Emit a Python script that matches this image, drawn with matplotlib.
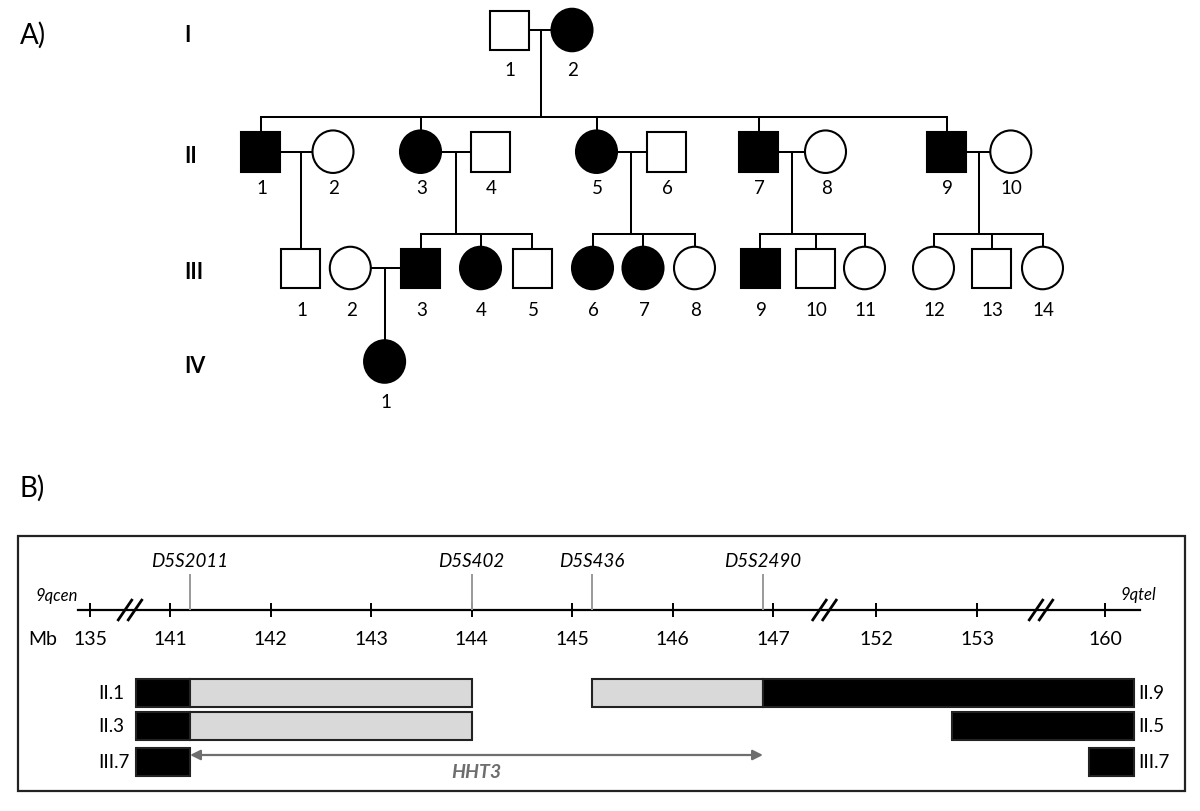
import matplotlib
matplotlib.use("Agg")
import matplotlib.pyplot as plt
from matplotlib.patches import Rectangle, Ellipse
import numpy as np

plt.rcParams['font.family'] = ['Lato', 'DejaVu Sans']

# ---------------- data: pedigree ----------------
GENERATIONS = ["I", "II", "III", "IV"]
SEX = {"I": "MF", "II": "MFFMFMMFMF", "III": "MFMFMFFFMMFFMF", "IV": "F"}
AFFECTED = {
    "I": [0, 1],
    "II": [1, 0, 1, 0, 1, 0, 1, 0, 1, 0],
    "III": [0, 0, 1, 1, 0, 1, 1, 0, 1, 0, 0, 0, 0, 0],
    "IV": [1],
}
# couples: (generation, index a, index b) -> children (generation, indices)
COUPLES = [
    ("I", 0, 1, "II", [0, 2, 4, 6, 8]),
    ("II", 0, 1, "III", [0]),
    ("II", 2, 3, "III", [2, 3, 4]),
    ("II", 4, 5, "III", [5, 6, 7]),
    ("II", 6, 7, "III", [8, 9, 10]),
    ("II", 8, 9, "III", [11, 12, 13]),
    ("III", 1, 2, "IV", [0]),
]

# ---------------- data: haplotype map ----------------
TICK_MB = [135, 141, 142, 143, 144, 145, 146, 147, 152, 153, 160]
MARKERS = ["D5S2011", "D5S402", "D5S436", "D5S2490"]
MARKER_MB = [141.2, 144.0, 145.2, 146.9]
LEFT_LABELS = ["II.1", "II.3", "III.7"]
RIGHT_LABELS = ["II.9", "II.5", "III.7"]
SEG_ROW = [0, 0, 1, 1, 2, 0, 0, 1, 2]
SEG_START = [138.45, 141.2, 138.45, 141.2, 138.45, 145.2, 146.9, 152.75, 159.1]
SEG_END = [141.2, 144.0, 141.2, 144.0, 141.2, 146.9, 161.6, 161.6, 161.6]
SEG_STATE = ["shared", "uninf", "shared", "uninf", "shared", "uninf", "shared", "shared", "shared"]
INTERVAL = [141.2, 146.9]
INTERVAL_NAME = "HHT3"

# ---------------- layout ----------------
X_POS = {
    "I": [509, 572],
    "II": [260.5, 333, 420.5, 490.7, 596.5, 666.2, 758.7, 825.5, 946.7, 1010.8],
    "III": [300.6, 350.3, 420.6, 480.5, 532, 592.5, 643, 694.5, 760, 815.5,
            864.5, 933.5, 991.5, 1042.5],
    "IV": [384.6],
}
Y_POS = {"I": 31, "II": 152.7, "III": 269, "IV": 362.5}
Y_NUM = {"I": 70, "II": 189, "III": 311, "IV": 403}
SIB_Y = {"II": 118, "III": 234.5}
HALF = 20.5
LW = 1.45

fig = plt.figure(figsize=(12, 8.12), dpi=100)
ax0 = fig.add_axes([0, 0, 1, 1])
ax0.set_xlim(0, 1200)
ax0.set_ylim(812, 0)
ax0.axis('off')

# panel letters
ax0.text(20, 35, "A)", fontsize=20, ha='left', va='center')
ax0.text(20, 488, "B)", fontsize=20, ha='left', va='center')

# generation labels
for g in GENERATIONS:
    ax0.text(184, Y_POS[g] + 4, g, fontsize=15.5, fontweight='bold', ha='left', va='center')

# connecting lines
for (g, a, b, cg, kids) in COUPLES:
    xa, xb = X_POS[g][a], X_POS[g][b]
    y = Y_POS[g]
    ax0.plot([xa + HALF, xb - HALF], [y, y], color='black', lw=LW, zorder=1,
             solid_capstyle='butt')
    kx = [X_POS[cg][k] for k in kids]
    drop = (xa + xb) / 2 if len(kids) > 1 else kx[0]
    if len(kids) == 1:
        ax0.plot([drop, drop], [y, Y_POS[cg] - HALF], color='black', lw=LW, zorder=1)
        continue
    sy = SIB_Y[cg]
    ax0.plot([drop, drop], [y, sy], color='black', lw=LW, zorder=1)
    ax0.plot([min(kx + [drop]), max(kx + [drop])], [sy, sy], color='black', lw=LW,
             zorder=1, solid_capstyle='projecting')
    for x in kx:
        ax0.plot([x, x], [sy, Y_POS[cg] - HALF], color='black', lw=LW, zorder=1)

# individuals
for g in GENERATIONS:
    for i, (s, aff) in enumerate(zip(SEX[g], AFFECTED[g])):
        x, y = X_POS[g][i], Y_POS[g]
        fc = 'black' if aff else 'white'
        if s == "M":
            p = Rectangle((x - 19.5, y - 19.5), 39, 39.5, facecolor=fc, edgecolor='black',
                          lw=1.5, zorder=2)
        else:
            p = Ellipse((x, y), 41, 42.5, facecolor=fc, edgecolor='black', lw=1.5, zorder=2)
        ax0.add_patch(p)
        ax0.text(x + 1, Y_NUM[g], str(i + 1), fontsize=13.5, ha='center', va='center')

# ---------------- panel B ----------------
KNOT_MB = [125, 135, 141, 147, 152, 153, 160, 170]
KNOT_PX = [-43.3, 90, 170, 773, 876, 977, 1105, 1287.9]


def fwd(v):
    return np.interp(v, KNOT_MB, KNOT_PX)


def inv(p):
    return np.interp(p, KNOT_PX, KNOT_MB)


# frame
ax0.add_patch(Rectangle((18, 537), 1167, 255, facecolor='none', edgecolor='#222222', lw=1.6))
AXIS_Y = 611
ax0.plot([78, 1140], [AXIS_Y, AXIS_Y], color='black', lw=1.6)
ax0.text(57, 596, "9qcen", fontsize=12, style='italic', ha='center', va='center')
ax0.text(1138, 595, "9qtel", fontsize=12, style='italic', ha='center', va='center')
ax0.text(43, 640, "Mb", fontsize=14, ha='center', va='center')

axB = fig.add_axes([0, 0, 1, 1], facecolor='none')
axB.set_xscale('function', functions=(fwd, inv))

# ticks
axB.vlines(TICK_MB, AXIS_Y - 7, AXIS_Y + 7, color='black', lw=1.4)
for t in TICK_MB:
    axB.text(t, 640, str(t), fontsize=14, ha='center', va='center')

# axis breaks
for t0, t1 in zip(TICK_MB[:-1], TICK_MB[1:]):
    if t1 - t0 > 1:
        c = (fwd(t0) + fwd(t1)) / 2
        for off in (-5, 5):
            ax0.plot([c + off - 7.5, c + off + 7.5], [AXIS_Y + 11, AXIS_Y - 11],
                     color='black', lw=2.0, solid_capstyle='butt')

# markers
axB.vlines(MARKER_MB, 575, AXIS_Y, color='#999999', lw=1.4)
for m, name in zip(MARKER_MB, MARKERS):
    axB.text(m, 562, name, fontsize=13.5, style='italic', ha='center', va='center')

# bars
ROW_Y = [694, 727, 763]
BAR_H = 27.5
for r, s, e, st in zip(SEG_ROW, SEG_START, SEG_END, SEG_STATE):
    fc = 'black' if st == "shared" else '#d9d9d9'
    axB.barh(ROW_Y[r], e - s, left=s, height=BAR_H, color=fc, edgecolor='#222222', lw=1.5)
for r, lab in enumerate(LEFT_LABELS):
    ax0.text(98, ROW_Y[r], lab, fontsize=13.5, ha='left', va='center')
for r, lab in enumerate(RIGHT_LABELS):
    ax0.text(1138, ROW_Y[r], lab, fontsize=13.5, ha='left', va='center')

# critical interval arrow
axB.annotate('', xy=(INTERVAL[1], 756), xytext=(INTERVAL[0], 756),
             arrowprops=dict(arrowstyle='<|-|>', color='#6e6e6e', lw=1.6,
                             mutation_scale=15, shrinkA=0, shrinkB=0))
axB.text((INTERVAL[0] + INTERVAL[1]) / 2, 773, INTERVAL_NAME, fontsize=14,
         style='italic', fontweight='bold', color='#6e6e6e', ha='center', va='center')

axB.set_xlim(inv(0), inv(1200))
axB.set_ylim(812, 0)
axB.axis('off')

fig.savefig("out.png", dpi=100)
